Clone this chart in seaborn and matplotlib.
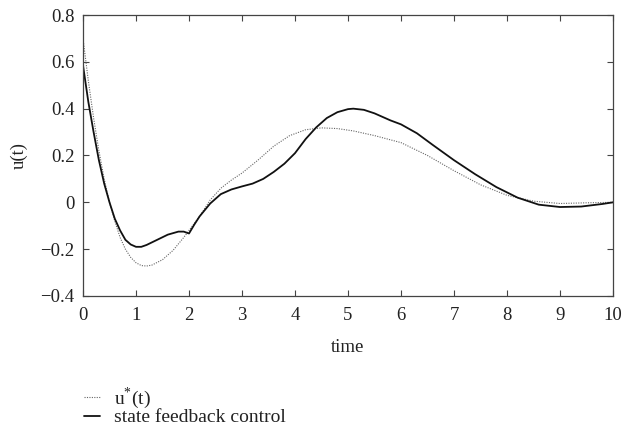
import numpy as np
import pandas as pd
import matplotlib
matplotlib.use("Agg")
import matplotlib.pyplot as plt
import seaborn as sns
from matplotlib.lines import Line2D

# State feedback control u(t)
t_sf = [0, 0.1, 0.2, 0.3, 0.4, 0.5, 0.6, 0.7, 0.8, 0.9, 1.0, 1.1, 1.2, 1.4, 1.6,
        1.8, 1.9, 2.0, 2.1, 2.2, 2.4, 2.6, 2.8, 3.0, 3.2, 3.4, 3.6, 3.8, 4.0,
        4.2, 4.4, 4.6, 4.8, 5.0, 5.1, 5.3, 5.5, 5.8, 6.0, 6.3, 6.6, 7.0, 7.4,
        7.8, 8.2, 8.6, 9.0, 9.4, 9.8, 10.0]
u_sf = [0.585, 0.43, 0.30, 0.18, 0.08, 0.0, -0.07, -0.12, -0.16, -0.18, -0.19,
        -0.19, -0.182, -0.16, -0.138, -0.125, -0.125, -0.133, -0.095, -0.06,
        -0.005, 0.035, 0.055, 0.068, 0.08, 0.10, 0.13, 0.165, 0.21, 0.27, 0.32,
        0.36, 0.385, 0.398, 0.40, 0.395, 0.38, 0.35, 0.333, 0.295, 0.245, 0.18,
        0.12, 0.065, 0.02, -0.01, -0.02, -0.018, -0.007, 0.0]

# Optimal control u*(t)
t_opt = [0, 0.1, 0.2, 0.3, 0.4, 0.5, 0.6, 0.7, 0.8, 0.9, 1.0, 1.1, 1.2, 1.3,
         1.5, 1.7, 1.9, 2.0, 2.2, 2.4, 2.6, 2.8, 3.0, 3.3, 3.6, 3.9, 4.2, 4.5,
         4.8, 5.1, 5.5, 6.0, 6.5, 7.0, 7.5, 8.0, 8.5, 9.0, 9.5, 10.0]
u_opt = [0.70, 0.52, 0.36, 0.22, 0.10, 0.0, -0.08, -0.15, -0.20, -0.235,
         -0.258, -0.27, -0.272, -0.268, -0.245, -0.205, -0.15, -0.12, -0.06,
         0.01, 0.06, 0.095, 0.125, 0.18, 0.24, 0.285, 0.31, 0.318, 0.315,
         0.305, 0.285, 0.255, 0.20, 0.135, 0.075, 0.03, 0.005, -0.005,
         -0.002, 0.0]

x_ticks = list(range(0, 11))
y_ticks = [-0.4, -0.2, 0, 0.2, 0.4, 0.6, 0.8]
y_tick_labels = ["\u22120.4", "\u22120.2", "0", "0.2", "0.4", "0.6", "0.8"]
legend_labels = ["u$^{*}$(t)", "state feedback control"]

sns.set_style("ticks")
plt.rcParams["font.family"] = ["Liberation Serif", "DejaVu Serif"]
plt.rcParams["mathtext.fontset"] = "custom"
plt.rcParams["mathtext.rm"] = "Liberation Serif"

fig = plt.figure(figsize=(6.41, 4.29), dpi=100)
ax = fig.add_axes([83 / 641, 1 - 296 / 429, (613 - 83) / 641, (296 - 15) / 429])

df_opt = pd.DataFrame({"t": t_opt, "u": u_opt})
df_sf = pd.DataFrame({"t": t_sf, "u": u_sf})
sns.lineplot(data=df_opt, x="t", y="u", ax=ax, color="#666666", lw=0.8,
             linestyle=(0, (1, 1.2)))
sns.lineplot(data=df_sf, x="t", y="u", ax=ax, color="#111111", lw=1.3)

ax.set_xlim(0, 10)
ax.set_ylim(-0.4, 0.8)
ax.set_xticks(x_ticks)
ax.set_xticklabels([str(v) for v in x_ticks])
ax.set_yticks(y_ticks)
ax.set_yticklabels(y_tick_labels)
ax.tick_params(direction="in", top=True, right=True, length=4, width=0.8,
               color="#444444", labelsize=13.5, labelcolor="#222222")
ax.tick_params(axis="x", pad=8)
ax.tick_params(axis="y", pad=6)
for s in ax.spines.values():
    s.set_color("#444444")
    s.set_linewidth(0.9)
ax.set_xlabel("time", fontsize=13.5, color="#222222", labelpad=11)
ax.set_ylabel("u(t)", fontsize=13.5, color="#222222", labelpad=9)

handles = [Line2D([], [], color="#666666", lw=0.8, linestyle=(0, (1, 1.2))),
           Line2D([], [], color="#111111", lw=1.3)]
fig.legend(handles, legend_labels, loc="upper left",
           bbox_to_anchor=(84 / 641, 1 - 385 / 429), frameon=False,
           fontsize=14, handlelength=0.8, handletextpad=0.75,
           labelspacing=-0.1, borderpad=0, borderaxespad=0,
           labelcolor="#222222")

fig.savefig("out.png", dpi=100)
